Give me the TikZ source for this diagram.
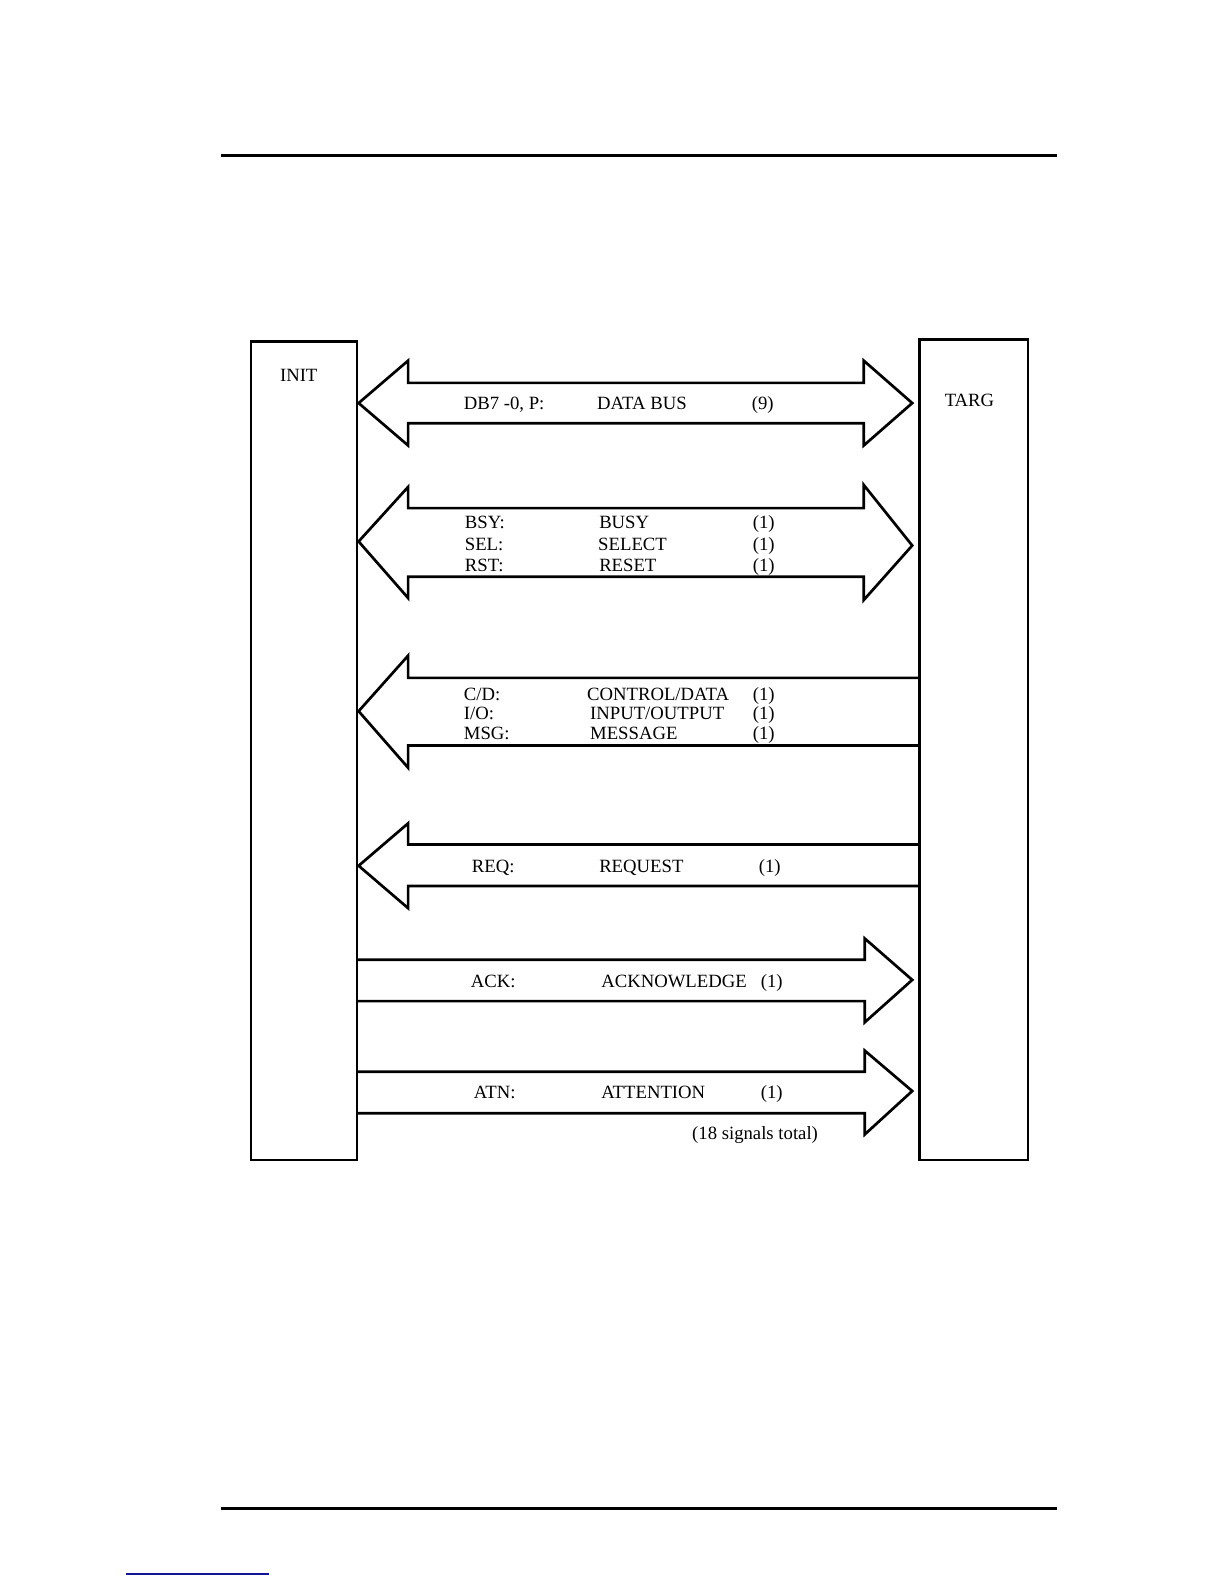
\documentclass[tikz,border=0pt]{standalone}
\usepackage{fontspec}
\setmainfont{Liberation Serif}
\begin{document}
\begin{tikzpicture}[x=1.0099pt,y=-1.0099pt,
  unitbox/.style={draw,line width=2.4pt,inner sep=0pt,anchor=north west},
  sig/.style={draw,line width=2.7pt,line join=miter},
  lbl/.style={anchor=base west,inner sep=0pt,font=\fontsize{18.7}{21}\selectfont},
  rule/.style={line width=2.2pt}]
\useasboundingbox (0,0) rectangle (1212,1568);
% page rules
\draw[rule] (219,154) -- (1046,154);
\draw[rule,line width=2.6pt] (219,1493) -- (1046,1493);
\draw[line width=1.3pt,color={rgb,255:red,20;green,20;blue,150}] (125,1558) -- (266,1558);
% units
\node[unitbox,minimum width=106pt,minimum height=818pt] (init) at (247.5,337) {};
\node[unitbox,minimum width=108.5pt,minimum height=820pt] (targ) at (909,335) {};
\node[lbl] (initlbl) at (277,378) {INIT};
\node[lbl] (targlbl) at (935,402) {TARG};
% data bus (double)
\draw[sig] (903,399) -- (855,357) -- (855,379) -- (404,379) -- (404,357) -- (355,399)
  -- (404,441) -- (404,419) -- (855,419) -- (855,441) -- cycle;
\node[lbl] (db1) at (459,405.5) {DB7 -0, P:};
\node[lbl] (db2) at (591,405.5) {DATA BUS};
\node[lbl] (db3) at (744,405.5) {(9)};
% BSY/SEL/RST (double)
\draw[sig] (903,540) -- (855,480) -- (855,503) -- (404,503) -- (404,482) -- (355,536)
  -- (404,592) -- (404,571) -- (855,571) -- (855,594) -- cycle;
\node[lbl] (b1) at (460,523.5) {BSY:};
\node[lbl] (b2) at (593,523.5) {BUSY};
\node[lbl] (b3) at (745,523.5) {(1)};
\node[lbl] (s1) at (460,544.5) {SEL:};
\node[lbl] (s2) at (592,544.5) {SELECT};
\node[lbl] (s3) at (745,544.5) {(1)};
\node[lbl] (r1) at (460,565.5) {RST:};
\node[lbl] (r2) at (593,565.5) {RESET};
\node[lbl] (r3) at (745,565.5) {(1)};
% C/D, I/O, MSG (to INIT)
\draw[sig] (909,671) -- (404,671) -- (404,649) -- (355,704) -- (404,760) -- (404,738) -- (909,738);
\node[lbl] (c1) at (459,693.5) {C/D:};
\node[lbl] (c2) at (581,693.5) {CONTROL/DATA};
\node[lbl] (c3) at (745,693.5) {(1)};
\node[lbl] (i1) at (459,712.5) {I/O:};
\node[lbl] (i2) at (584,712.5) {INPUT/OUTPUT};
\node[lbl] (i3) at (745,712.5) {(1)};
\node[lbl] (m1) at (459,732.5) {MSG:};
\node[lbl] (m2) at (584,732.5) {MESSAGE};
\node[lbl] (m3) at (745,732.5) {(1)};
% REQ (to INIT)
\draw[sig] (909,836) -- (404,836) -- (404,815) -- (355,857) -- (404,899) -- (404,877) -- (909,877);
\node[lbl] (q1) at (467,863.5) {REQ:};
\node[lbl] (q2) at (593,863.5) {REQUEST};
\node[lbl] (q3) at (751,863.5) {(1)};
% ACK (to TARG)
\draw[sig] (353,950) -- (856,950) -- (856,929) -- (903,970) -- (856,1012) -- (856,991) -- (353,991);
\node[lbl] (a1) at (466,977.5) {ACK:};
\node[lbl] (a2) at (595,977.5) {ACKNOWLEDGE};
\node[lbl] (a3) at (753,977.5) {(1)};
% ATN (to TARG)
\draw[sig] (353,1061) -- (856,1061) -- (856,1040) -- (903,1080) -- (856,1123) -- (856,1102) -- (353,1102);
\node[lbl] (t1) at (469,1087.5) {ATN:};
\node[lbl] (t2) at (595,1087.5) {ATTENTION};
\node[lbl] (t3) at (753,1087.5) {(1)};
\node[lbl] (tot) at (685,1127.5) {(18 signals total)};
\end{tikzpicture}
\end{document}
